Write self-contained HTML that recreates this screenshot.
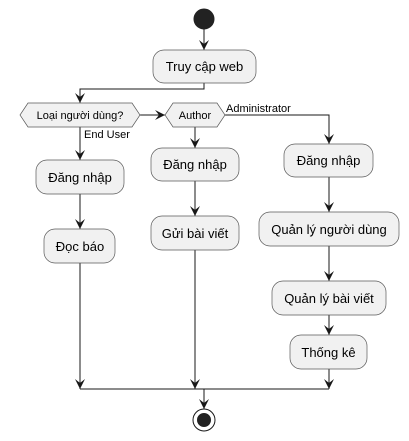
<!DOCTYPE html>
<html><head><meta charset="utf-8"><style>body{margin:0;background:#fff}svg{display:block}text{font-family:"Liberation Sans","DejaVu Sans",sans-serif;fill:#000}</style></head><body>
<svg width="409" height="441" viewBox="0 0 409 441" xmlns="http://www.w3.org/2000/svg">
<defs><marker id="a" markerWidth="10" markerHeight="10" refX="5" refY="10" orient="0" markerUnits="userSpaceOnUse" viewBox="0 0 10 10"><path d="M0,0 L5,10 L10,0 L5,4 Z" fill="#181818"/></marker>
<marker id="r" markerWidth="10" markerHeight="10" refX="10" refY="5" orient="0" markerUnits="userSpaceOnUse" viewBox="0 0 10 10"><path d="M0,0 L10,5 L0,10 L4,5 Z" fill="#181818"/></marker></defs>
<g stroke="#181818" stroke-width="1" fill="none">
<circle cx="204" cy="19" r="10" fill="#222" stroke="#222"/>
<line x1="204" y1="29" x2="204" y2="50" marker-end="url(#a)"/>
<polyline points="204,83 204,89 80,89 80,103" marker-end="url(#a)"/>
<line x1="140" y1="115" x2="165" y2="115" marker-end="url(#r)"/>
<polyline points="225,115 329,115 329,144" marker-end="url(#a)"/>
<line x1="80" y1="127" x2="80" y2="160" marker-end="url(#a)"/>
<line x1="80" y1="194" x2="80" y2="229" marker-end="url(#a)"/>
<line x1="80" y1="263" x2="80" y2="389" marker-end="url(#a)"/>
<line x1="195" y1="127" x2="195" y2="148" marker-end="url(#a)"/>
<line x1="195" y1="181" x2="195" y2="216" marker-end="url(#a)"/>
<line x1="195" y1="250" x2="195" y2="389" marker-end="url(#a)"/>
<line x1="329" y1="177" x2="329" y2="212" marker-end="url(#a)"/>
<line x1="329" y1="246" x2="329" y2="281" marker-end="url(#a)"/>
<line x1="329" y1="315" x2="329" y2="335" marker-end="url(#a)"/>
<line x1="329" y1="369" x2="329" y2="389" marker-end="url(#a)"/>
<line x1="80" y1="389" x2="329" y2="389"/>
<line x1="204" y1="389" x2="204" y2="409" marker-end="url(#a)"/>
<circle cx="204" cy="420" r="11" fill="#fff"/>
<circle cx="204" cy="420" r="6.5" fill="#222" stroke="#222"/>
</g>
<g fill="#f1f1f1" stroke="#5a5a5a" stroke-width="0.7">
<rect x="153" y="50" width="103" height="33" rx="11"/>
<polygon points="20,115 28,103 132,103 140,115 132,127 28,127"/>
<polygon points="165,115 173,103 217,103 225,115 217,127 173,127"/>
<rect x="36" y="160" width="88" height="34" rx="11"/>
<rect x="44" y="229" width="71" height="34" rx="11"/>
<rect x="151" y="148" width="88" height="33" rx="11"/>
<rect x="151" y="216" width="88" height="34" rx="11"/>
<rect x="284" y="144" width="89" height="33" rx="11"/>
<rect x="259" y="212" width="140" height="34" rx="11"/>
<rect x="272" y="281" width="114" height="34" rx="11"/>
<rect x="290" y="335" width="77" height="34" rx="11"/>
</g>
<g font-size="13" text-anchor="middle">
<text x="204.5" y="71">Truy cập web</text>
<text x="80" y="182">Đăng nhập</text>
<text x="80" y="251">Đọc báo</text>
<text x="195" y="169">Đăng nhập</text>
<text x="195" y="238">Gửi bài viết</text>
<text x="328.5" y="165">Đăng nhập</text>
<text x="329" y="234">Quản lý người dùng</text>
<text x="329" y="303">Quản lý bài viết</text>
<text x="328.5" y="357">Thống kê</text>
<text x="80" y="119" font-size="11">Loại người dùng?</text>
<text x="195" y="119" font-size="11">Author</text>
</g>
<text x="226" y="112" font-size="11">Administrator</text>
<text x="84" y="138" font-size="11">End User</text>
</svg>
</body></html>
